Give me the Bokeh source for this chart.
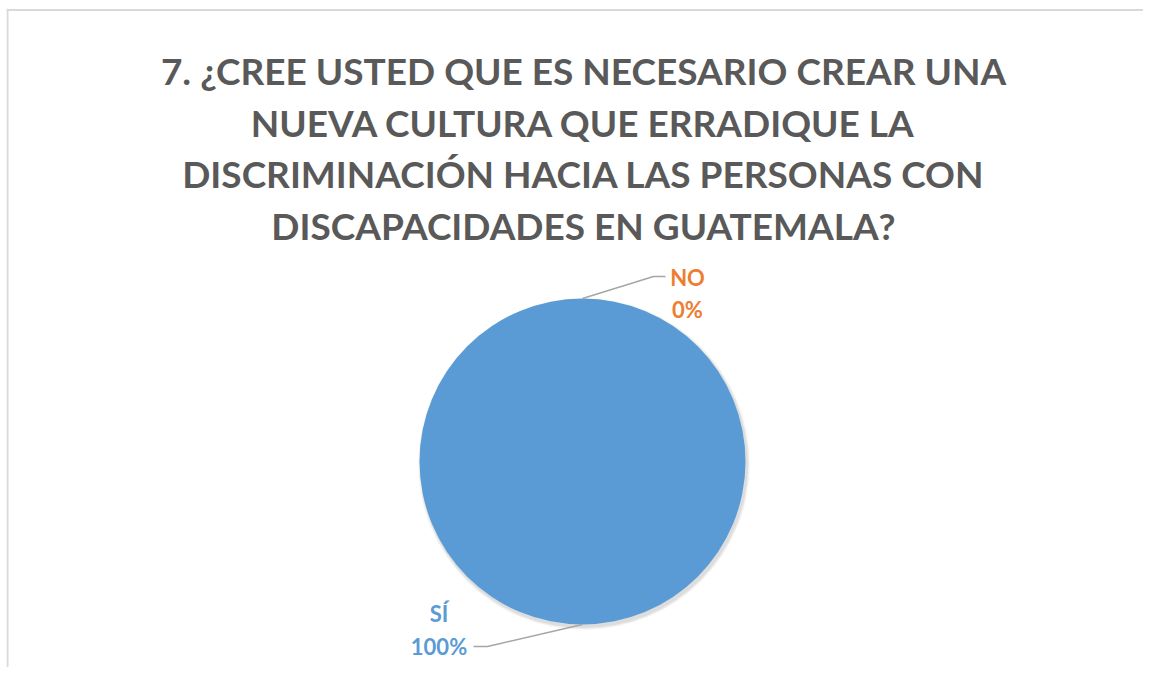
import numpy as np
from bokeh.plotting import figure
from bokeh.models import Range1d, Span
from bokeh.core.properties import value
from bokeh.embed import file_html
from bokeh.resources import INLINE

title_lines = [
    "7. ¿CREE USTED QUE ES NECESARIO CREAR UNA",
    "NUEVA CULTURA QUE ERRADIQUE LA",
    "DISCRIMINACIÓN HACIA LAS PERSONAS CON",
    "DISCAPACIDADES EN GUATEMALA?",
]
categories = ["SÍ", "NO"]
values = [100, 0]
colors = ["#5B9BD5", "#ED7D31"]

W, H = 1143, 667
ML, MT = 6, 8
FW, FH = W - ML, H - MT
p = figure(width=W, height=H, output_backend="svg", toolbar_location=None,
           x_range=Range1d(0, FW), y_range=Range1d(FH, 0),
           min_border_left=ML, min_border_top=MT, min_border_right=0,
           min_border_bottom=0)
p.axis.visible = False
p.grid.visible = False
p.outline_line_color = None
p.background_fill_color = "white"
p.border_fill_color = "white"
# chart-area border (only left and top edges are visible in the reference)
p.add_layout(Span(location=1, dimension="height", line_color="#d9d9d9", line_width=2))
p.add_layout(Span(location=1.5, dimension="width", line_color="#d9d9d9", line_width=2))

# title
ty = [62 + 51.5 * i for i in range(len(title_lines))]
p.text(x=[577] * len(title_lines), y=ty, text=title_lines,
       text_font=value("Lato"), text_font_style="bold", text_font_size="37px",
       text_color="#595959", text_align="center", text_baseline="alphabetic")

# pie
cx, cy, r = 576, 453, 163
vals = np.array(values, dtype=float)
frac = vals / vals.sum()
ang = np.concatenate([[0], np.cumsum(frac)]) * 2 * np.pi
# start at 12 o'clock, clockwise (y axis is flipped: screen angles)
start = -np.pi / 2 + ang[:-1]
end = -np.pi / 2 + ang[1:]
# soft shadow
for k, a in [(6, 0.035), (4, 0.045), (2, 0.06)]:
    p.circle(x=[cx + 1.5], y=[cy + 2.5], radius=r + k * 0.5, fill_color="black",
             fill_alpha=a, line_color=None)
for i in range(len(categories)):
    if vals[i] <= 0:
        continue
    if frac[i] >= 0.9999:
        p.circle(x=[cx], y=[cy], radius=r, fill_color=colors[i], line_color=None)
    else:
        p.wedge(x=cx, y=cy, radius=r, start_angle=start[i], end_angle=end[i],
                fill_color=colors[i], line_color="white")

# labels with leader lines
mid = (start + end) / 2
for i, cat in enumerate(categories):
    a = mid[i]
    px, py = cx + r * np.cos(a), cy + r * np.sin(a)
    if frac[i] < 0.5:
        ex, ey = px + 71, py - 22
        hx = ex + 12
        lx = hx + 22
        y1, y2 = ey + 1, ey + 33
    else:
        ex, ey = px - 95, py + 22
        hx = ex - 14
        lx = hx - 34.5
        y1, y2 = ey - 33, ey
    p.line(x=[px, ex, hx], y=[py, ey, ey], line_color="#a6a6a6", line_width=1.5)
    p.text(x=[lx, lx], y=[y1, y2], text=[cat, f"{values[i]:.0f}%"],
           text_font=value("Lato"), text_font_style="bold", text_font_size="22px",
           text_color=colors[i], text_align="center", text_baseline="alphabetic")

open("out.html", "w").write(file_html(p, INLINE))
